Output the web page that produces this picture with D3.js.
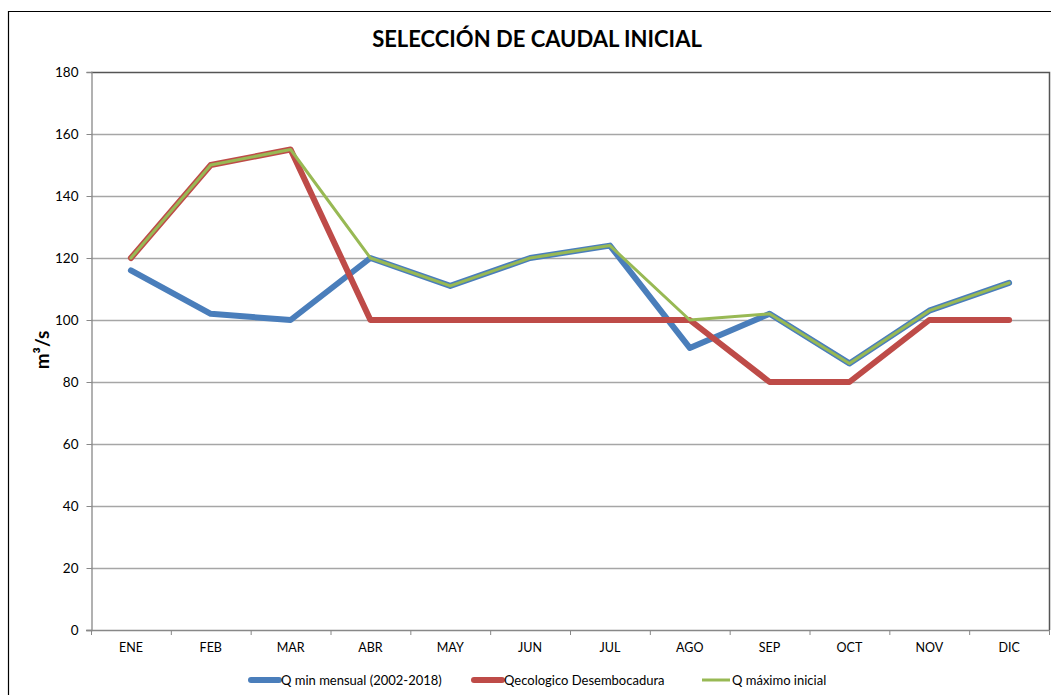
<!DOCTYPE html>
<html>
<head>
<meta charset="utf-8">
<script src="https://cdn.jsdelivr.net/npm/d3@7"></script>
<style>
  html, body { margin: 0; padding: 0; background: #fff; }
  svg { display: block; }
  text { font-family: Lato, "Open Sans", Arial, sans-serif; fill: #000; }
</style>
</head>
<body>
<svg id="chart" width="1051" height="695"></svg>
<script>
const months = ["ENE","FEB","MAR","ABR","MAY","JUN","JUL","AGO","SEP","OCT","NOV","DIC"];
const qMin = [116, 102, 100, 120, 111, 120, 124, 91, 102, 86, 103, 112];
const qEco = [120, 150, 155, 100, 100, 100, 100, 100, 80, 80, 100, 100];
const qMax = [120, 150, 155, 120, 111, 120, 124, 100, 102, 86, 103, 112];
const yTicks = [0, 20, 40, 60, 80, 100, 120, 140, 160, 180];
const seriesNames = ["Q min mensual (2002-2018)", "Qecologico Desembocadura", "Q máximo inicial"];
const seriesColors = ["#4A7EBB", "#BE4B48", "#98B954"];

const svg = d3.select("#chart");
const L = 91, R = 1049, T = 72, B = 630;

// outer chart border
svg.append("path")
  .attr("d", `M8.5,695 L8.5,11.5 L1051,11.5`)
  .attr("fill", "none").attr("stroke", "#000").attr("stroke-width", 1.2);

const x = d3.scaleBand().domain(months).range([L, R]).padding(0);
const xc = m => x(m) + x.bandwidth() / 2;
const y = d3.scaleLinear().domain([0, 180]).range([B, T]);

// gridlines
svg.append("g").selectAll("line").data(yTicks.filter(d => d > 0 && d < 180)).join("line")
  .attr("x1", L).attr("x2", R)
  .attr("y1", d => y(d) + 0.5).attr("y2", d => y(d) + 0.5)
  .attr("stroke", "#a6a6a6").attr("stroke-width", 1.3);

// plot area border top/right
svg.append("path")
  .attr("d", `M${L},${y(180)+0.5} L${R+0.5},${y(180)+0.5} L${R+0.5},${B}`)
  .attr("fill", "none").attr("stroke", "#555").attr("stroke-width", 1.5);

// y axis
const yAxis = d3.axisLeft(y).tickValues(yTicks).tickSize(5).tickPadding(8);
const gy = svg.append("g").attr("transform", `translate(${L + 0.5},0)`).call(yAxis);
gy.select(".domain").attr("stroke", "#888").attr("stroke-width", 1.3);
gy.selectAll(".tick line").attr("stroke", "#888");
gy.selectAll("text").attr("font-size", 13.5).attr("font-family", "Lato, 'Open Sans', Arial, sans-serif");

// x axis
const xAxis = d3.axisBottom(x).tickSize(0).tickPadding(13);
const gx = svg.append("g").attr("transform", `translate(0,${B + 0.5})`).call(xAxis);
gx.select(".domain").attr("stroke", "#888").attr("stroke-width", 1.3).attr("d", `M${L - 5},0H${R}`);
gx.selectAll("text").attr("font-size", 12.5).attr("font-family", "Lato, 'Open Sans', Arial, sans-serif");
// boundary tick marks
svg.append("g").selectAll("line").data(months.concat(["_end"])).join("line")
  .attr("x1", (d, i) => i < months.length ? x(d) + 0.5 : R + 0.5)
  .attr("x2", (d, i) => i < months.length ? x(d) + 0.5 : R + 0.5)
  .attr("y1", B).attr("y2", B + 5)
  .attr("stroke", "#888").attr("stroke-width", 1);

// lines
const line = d3.line().x((d, i) => xc(months[i])).y(d => y(d));
const series = [
  { vals: qMin, color: seriesColors[0], w: 6 },
  { vals: qEco, color: seriesColors[1], w: 6 },
  { vals: qMax, color: seriesColors[2], w: 3 }
];
series.forEach(s => {
  svg.append("path").datum(s.vals)
    .attr("d", line)
    .attr("fill", "none")
    .attr("stroke", s.color)
    .attr("stroke-width", s.w)
    .attr("stroke-linejoin", "round")
    .attr("stroke-linecap", "round");
});

// title
svg.append("text").attr("x", 537).attr("y", 47).attr("text-anchor", "middle")
  .attr("font-size", 22).attr("font-weight", "bold").text("SELECCIÓN DE CAUDAL INICIAL");

// y title
svg.append("text").attr("transform", "translate(49,350) rotate(-90)")
  .attr("text-anchor", "middle").attr("font-size", 19).attr("font-weight", "bold")
  .text("m³/s");

// legend
const legX = [249, 472, 700];
const legY = 680;
const lg = svg.append("g");
seriesNames.forEach((n, i) => {
  lg.append("line").attr("x1", legX[i] + 2).attr("x2", legX[i] + 30)
    .attr("y1", legY).attr("y2", legY)
    .attr("stroke", seriesColors[i]).attr("stroke-width", i < 2 ? 6 : 3)
    .attr("stroke-linecap", i < 2 ? "round" : "butt");
  lg.append("text").attr("x", legX[i] + 32).attr("y", legY + 4.5)
    .attr("font-size", 13).text(n);
});
</script>
</body>
</html>
